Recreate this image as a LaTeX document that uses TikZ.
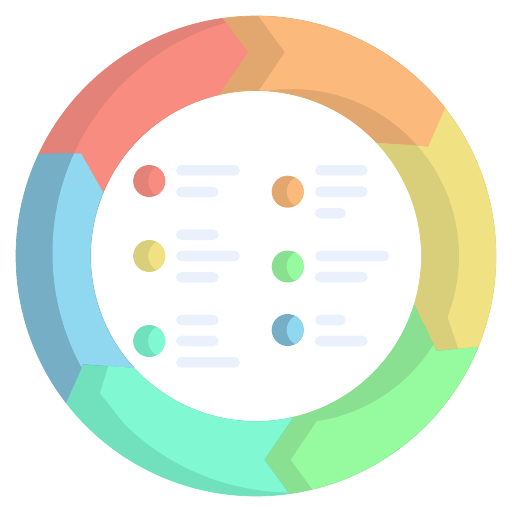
\documentclass[tikz,border=0pt]{standalone}
\usetikzlibrary{calc}
\definecolor{redL}{HTML}{F98C80}
\definecolor{redD}{HTML}{E38279}
\definecolor{orangeL}{HTML}{FBB97B}
\definecolor{orangeD}{HTML}{E1A76E}
\definecolor{yellowL}{HTML}{F0E283}
\definecolor{yellowD}{HTML}{D9CE79}
\definecolor{greenL}{HTML}{96FA9E}
\definecolor{greenD}{HTML}{88E090}
\definecolor{tealL}{HTML}{80F8D1}
\definecolor{tealD}{HTML}{70E0BD}
\definecolor{blueL}{HTML}{90D7F0}
\definecolor{blueD}{HTML}{76AEC6}
\definecolor{barC}{HTML}{EBF1FC}
\tikzset{
  dk/.style={fill=#1,draw=#1,line width=0.7pt,line join=round},
  bar/.style={fill=barC,rounded corners=5.3pt}
}
\newcommand\mydot[3]{\fill[#2] (#1) circle (16pt);
  \begin{scope}\clip (#1) circle (16pt); \fill[#3] ($(#1)+(15,0)$) circle (16pt);\end{scope}}
\newcommand\mybar[3]{\path[bar] (#1,#3-5.3) rectangle (#2,#3+5.3);}
\def\pRed{(154.9:240) arc[start angle=154.9,end angle=97.9,radius=240pt] -- (92.3:204) -- (102.9:165.5) arc[start angle=102.9,end angle=157.4,radius=165.5pt] -- (149.6:203) -- cycle}
\def\pOrange{(97.9:240) arc[start angle=97.9,end angle=38,radius=240pt] -- (32.4:204) -- (43:165.5) arc[start angle=43,end angle=102.9,radius=165.5pt] -- (92.3:204) -- cycle}
\def\pYellow{(38:240) arc[start angle=38,end angle=-22.2,radius=240pt] -- (-27.8:204) -- (-17.2:165.5) arc[start angle=-17.2,end angle=43,radius=165.5pt] -- (32.4:204) -- cycle}
\def\pGreen{(-22.2:240) arc[start angle=-22.2,end angle=-82.1,radius=240pt] -- (-87.7:204) -- (-77.1:165.5) arc[start angle=-77.1,end angle=-17.2,radius=165.5pt] -- (-27.8:204) -- cycle}
\def\pTeal{(-82.1:240) arc[start angle=-82.1,end angle=-142.4,radius=240pt] -- (-148:204) -- (-137.4:165.5) arc[start angle=-137.4,end angle=-77.1,radius=165.5pt] -- (-87.7:204) -- cycle}
\def\pBlue{(-142.4:240) arc[start angle=-142.4,end angle=-205.1,radius=240pt] -- (-210.4:203) -- (-202.6:165.5) arc[start angle=-202.6,end angle=-137.4,radius=165.5pt] -- (-148:204) -- cycle}
\begin{document}
\begin{tikzpicture}[x=1pt,y=1pt]
\useasboundingbox (-256,-256) rectangle (256,256);
% dark arrows
\path[dk=redD] \pRed;
\path[dk=orangeD] \pOrange;
\path[dk=yellowD] \pYellow;
\path[dk=greenD] \pGreen;
\path[dk=tealD] \pTeal;
\path[dk=blueD] \pBlue;
% light parts
\begin{scope}\clip \pRed; \fill[redL] (36,3) circle (239.5pt);\end{scope}
\begin{scope}\clip \pBlue; \fill[blueL] (36,3) circle (239.5pt);\end{scope}
\begin{scope}\clip \pTeal;
  \clip (-131,-55.4) -- (-156,-137.3) -- (-63,-254.3) -- (150,-300) -- (150,-40) -- cycle;
  \fill[tealL] (36,3) circle (239.5pt);\end{scope}
\begin{scope}\clip \pOrange;
  \clip (-33.2,288.6) -- (28.8,203.8) -- (-28.7,118.8) -- (0,0) -- (300,0) -- (300,300) -- (-33.2,300) -- cycle;
  \fill[orangeL,even odd rule] (0,0) circle (250pt) (36,0) circle (167pt);\end{scope}
\begin{scope}\clip \pYellow;
  \clip (100,250) -- (170.7,0) -- (212.6,-122.6) -- (300,-122.6) -- (300,250) -- cycle;
  \fill[yellowL,even odd rule] (0,0) circle (250pt) (36,0) circle (167pt);\end{scope}
\begin{scope}\clip \pGreen;
  \clip (0,0) -- (106.4,-97.6) -- (34.7,-203.8) -- (84.3,-271.6) -- (300,-300) -- (300,100) -- cycle;
  \fill[greenL,even odd rule] (0,0) circle (250pt) (36,0) circle (167pt);\end{scope}
% dots
\coordinate (dRed) at (-106.8,75);
\coordinate (dYellow) at (-106.8,0);
\coordinate (dTeal) at (-106.8,-85);
\coordinate (dOrange) at (31.7,64.3);
\coordinate (dGreen) at (31.7,-10.5);
\coordinate (dBlue) at (31.7,-74);
\mydot{dRed}{redD}{redL}
\mydot{dYellow}{yellowD}{yellowL}
\mydot{dTeal}{tealD}{tealL}
\mydot{dOrange}{orangeD}{orangeL}
\mydot{dGreen}{greenD}{greenL}
\mydot{dBlue}{blueD}{blueL}
% bars
\mybar{-80}{-16}{85.7} \mybar{-80}{-37.3}{64}
\mybar{-80}{-37.3}{21.3} \mybar{-80}{-16}{0} \mybar{-80}{-37.3}{-21.3}
\mybar{-80}{-37.3}{-64} \mybar{-80}{-37.3}{-85} \mybar{-80}{-16}{-106.3}
\mybar{59}{111.7}{85.7} \mybar{59}{111.7}{64.3} \mybar{59}{90}{42.7}
\mybar{59}{133.3}{0} \mybar{59}{111.7}{-21}
\mybar{59}{90}{-64} \mybar{59}{111.7}{-85}
\end{tikzpicture}
\end{document}
